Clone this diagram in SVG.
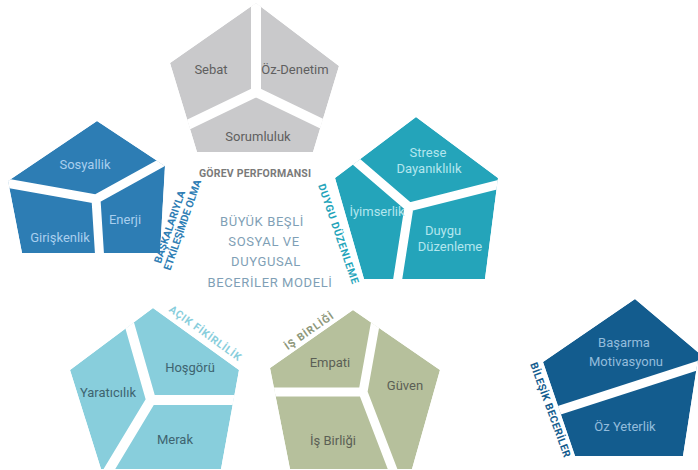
<svg xmlns="http://www.w3.org/2000/svg" width="698" height="470" viewBox="0 0 698 470">
<defs>
<style>
text{font-family:Roboto,"Liberation Sans",sans-serif}
.gap{stroke:#fff;stroke-width:9;fill:none}
.pl{text-anchor:middle;font-size:13px}
.lab{font-weight:bold;font-size:10.5px;text-anchor:middle}
.title{font-size:13px;fill:#7f9fb6;text-anchor:middle;letter-spacing:0.6px}
</style>
<clipPath id="c-gorev"><polygon points="256,3 339,66 313,152 197,152 170,63"/></clipPath>
<clipPath id="c-bask"><polygon points="8,181 97,121 165,166 160,253 22,253"/></clipPath>
<clipPath id="c-duygu"><polygon points="335,178 416,117 498,178 485,279 364,279"/></clipPath>
<clipPath id="c-acik"><polygon points="153,308 239,370 221,469 101,469 70,370"/></clipPath>
<clipPath id="c-is"><polygon points="353,310 440,370 412,469 290,469 270,368"/></clipPath>
<clipPath id="c-bil"><polygon points="635,299 699,353 683,456 575,456 543,362"/></clipPath>
</defs>
<rect width="698" height="470" fill="#fff"/>

<g id="gorev-performansi">
<g clip-path="url(#c-gorev)">
<polygon points="256,3 339,66 313,152 197,152 170,63" fill="#c9c9cb"/>
<path class="gap" style="stroke-width:10" d="M256,92 V-5 M256,92 L175,131 M256,92 L337,131"/>
</g>
<g class="pl" fill="#5f5f5f" font-size="13.5">
<text x="211" y="74">Sebat</text>
<text x="295" y="74">Öz-Denetim</text>
<text x="258" y="141">Sorumluluk</text>
</g>
<text class="lab" x="255" y="177" font-size="10.5" fill="#7a7a7a" textLength="112">GÖREV PERFORMANSI</text>
</g>

<g id="baskalariyla-etkilesimde-olma">
<g clip-path="url(#c-bask)">
<polygon points="8,181 97,121 165,166 160,253 22,253" fill="#2d7db4"/>
<path class="gap" d="M96,199 L0,182 M96,199 L172,157 M96,199 L100,262"/>
</g>
<g class="pl" fill="#a9cfee">
<text x="85" y="169">Sosyallik</text>
<text x="60" y="242">Girişkenlik</text>
<text x="125" y="224">Enerji</text>
</g>
<g transform="translate(173,228) rotate(-71)" fill="#2d7db4">
<text class="lab" x="0" y="0" textLength="76">BAŞKALARIYLA</text>
<text class="lab" x="6" y="11.5" textLength="95">ETKİLEŞİMDE OLMA</text>
</g>
</g>

<g id="duygu-duzenleme">
<g clip-path="url(#c-duygu)">
<polygon points="335,178 416,117 498,178 485,279 364,279" fill="#24a4ba"/>
<path class="gap" d="M409,207 L345,152 M409,207 L508,182 M409,207 L396,290"/>
</g>
<g class="pl" fill="#b3e6ee" font-size="12">
<text x="428" y="157">Strese</text>
<text x="429" y="173">Dayanıklılık</text>
<text x="377" y="216">İyimserlik</text>
<text x="443" y="235">Duygu</text>
<text x="450" y="251">Düzenleme</text>
</g>
<text class="lab" transform="translate(335,235) rotate(71)" fill="#24a4ba" textLength="105">DUYGU DÜZENLEME</text>
</g>

<g id="acik-fikirlilik">
<g clip-path="url(#c-acik)">
<polygon points="153,308 239,370 221,469 101,469 70,370" fill="#88cedc"/>
<path class="gap" style="stroke-width:10" d="M151,400 L127,316 M151,400 L248,400 M151,400 L104,478"/>
</g>
<g class="pl" fill="#3e6470">
<text x="190" y="372">Hoşgörü</text>
<text x="108" y="397">Yaratıcılık</text>
<text x="175" y="444">Merak</text>
</g>
<text class="lab" transform="translate(203,336) rotate(36)" fill="#88cedc" textLength="86">AÇIK FİKİRLİLİK</text>
</g>

<g id="is-birligi">
<g clip-path="url(#c-is)">
<polygon points="353,310 440,370 412,469 290,469 270,368" fill="#b6c09c"/>
<path class="gap" d="M363,392 L262,392 M363,392 L377,314 M363,392 L396,478"/>
</g>
<g class="pl" fill="#5b5f55">
<text x="330" y="367">Empati</text>
<text x="405" y="390">Güven</text>
<text x="333" y="445">İş Birliği</text>
</g>
<text class="lab" transform="translate(311,334) rotate(-35)" fill="#8d977a" textLength="57">İŞ BİRLİĞİ</text>
</g>

<g id="bilesik-beceriler">
<g clip-path="url(#c-bil)">
<polygon points="635,299 699,353 683,456 575,456 543,362" fill="#135c8e"/>
<path class="gap" d="M535,418 L706,363"/>
</g>
<g class="pl" fill="#93bcdc" font-size="10.5">
<text x="624" y="347">Başarma</text>
<text x="626" y="366">Motivasyonu</text>
<text x="625" y="431">Öz Yeterlik</text>
</g>
<text class="lab" transform="translate(547,411) rotate(70)" fill="#135c8e" textLength="100">BİLEŞİK BECERİLER</text>
</g>

<g id="model-title" class="title">
<text x="262" y="226">BÜYÜK BEŞLİ</text>
<text x="264" y="246">SOSYAL VE</text>
<text x="266" y="266">DUYGUSAL</text>
<text x="270" y="287">BECERİLER MODELİ</text>
</g>
</svg>
